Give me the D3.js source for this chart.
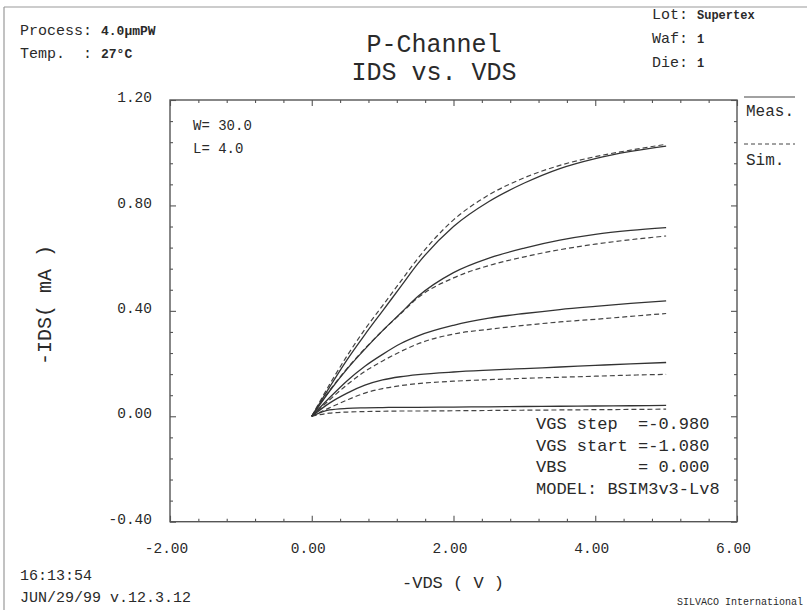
<!DOCTYPE html>
<html>
<head>
<meta charset="utf-8">
<script src="https://cdn.jsdelivr.net/npm/d3@7"></script>
<style>
  html, body { margin: 0; padding: 0; background: #fff; }
  svg { display: block; }
  text { font-family: "Liberation Mono", "DejaVu Sans Mono", monospace; fill: #2a2a2a; white-space: pre; }
</style>
</head>
<body>
<svg id="chart" width="807" height="610"></svg>
<script>
// ---- data ----
const vds = [0, 0.25, 0.5, 0.75, 1.0, 1.25, 1.5, 2.0, 2.5, 3.0, 3.5, 4.0, 4.5, 5.0];
// measured -IDS (mA), VGS = -5.0, -4.0, -3.0, -2.1, -1.1 (top to bottom)
const meas1 = [0, 0.110, 0.215, 0.310, 0.400, 0.490, 0.580, 0.720, 0.815, 0.885, 0.940, 0.978, 1.005, 1.025];
const meas2 = [0, 0.095, 0.180, 0.255, 0.325, 0.390, 0.455, 0.545, 0.600, 0.638, 0.668, 0.690, 0.705, 0.716];
const meas3 = [0, 0.070, 0.135, 0.190, 0.235, 0.275, 0.305, 0.345, 0.372, 0.390, 0.405, 0.417, 0.428, 0.438];
const meas4 = [0, 0.050, 0.088, 0.118, 0.138, 0.150, 0.158, 0.168, 0.175, 0.181, 0.187, 0.193, 0.199, 0.204];
const meas5 = [0, 0.024, 0.030, 0.032, 0.033, 0.034, 0.034, 0.035, 0.036, 0.037, 0.038, 0.039, 0.040, 0.041];
// simulated -IDS (mA)
const sim1 = [0, 0.120, 0.230, 0.330, 0.420, 0.510, 0.600, 0.745, 0.840, 0.905, 0.952, 0.985, 1.010, 1.032];
const sim2 = [0, 0.097, 0.182, 0.257, 0.325, 0.388, 0.450, 0.525, 0.572, 0.605, 0.632, 0.653, 0.670, 0.684];
const sim3 = [0, 0.062, 0.120, 0.170, 0.210, 0.245, 0.275, 0.312, 0.330, 0.345, 0.358, 0.368, 0.379, 0.390];
const sim4 = [0, 0.032, 0.062, 0.088, 0.105, 0.116, 0.124, 0.133, 0.139, 0.144, 0.148, 0.152, 0.156, 0.159];
const sim5 = [0, 0.012, 0.016, 0.018, 0.019, 0.020, 0.020, 0.021, 0.022, 0.023, 0.024, 0.025, 0.026, 0.027];

const xMajor = [-2, 0, 2, 4, 6];
const yMajor = [-0.4, 0, 0.4, 0.8, 1.2];
const xLabels = ["-2.00", "0.00", "2.00", "4.00", "6.00"];
const yLabels = ["-0.40", "0.00", "0.40", "0.80", "1.20"];
const paramLines = ["VGS step  =-0.980", "VGS start =-1.080", "VBS       = 0.000", "MODEL: BSIM3v3-Lv8"];

// ---- drawing ----
const svg = d3.select("#chart");
const L = 170, R = 737, T = 100, B = 521.7;
const x = d3.scaleLinear().domain([-2, 6]).range([L, R]);
const y = d3.scaleLinear().domain([-0.4, 1.2]).range([B, T]);
const ink = "#555";

svg.append("rect").attr("width", 807).attr("height", 610).attr("fill", "#fff");

// page border (top and left)
svg.append("line").attr("x1", 4).attr("y1", 7).attr("x2", 807).attr("y2", 7).attr("stroke", "#999").attr("stroke-width", 1.2);
svg.append("line").attr("x1", 4).attr("y1", 7).attr("x2", 4).attr("y2", 610).attr("stroke", "#999").attr("stroke-width", 1.2);

const xMinor = d3.range(-2, 6.001, 0.4).filter(v => Math.abs(Math.round(v / 2) * 2 - v) > 1e-6);
const yMinor = d3.range(-0.4, 1.2001, 0.08).filter(v => Math.abs(Math.round(v / 0.4) * 0.4 - v) > 1e-6);

function styleAxis(g) {
  g.select(".domain").remove();
  g.selectAll("line").attr("stroke", ink).attr("stroke-width", 1.1);
  g.selectAll("text").style("font-family", '"Liberation Mono", monospace').style("font-size", "14.5px").attr("fill", "#2a2a2a");
}

// bottom
svg.append("g").attr("transform", `translate(0,${B})`)
  .call(d3.axisBottom(x).tickValues(xMajor).tickSize(-6).tickPadding(21).tickFormat((d, i) => xLabels[i]))
  .call(styleAxis).call(g => g.selectAll("text").attr("dx", -4));
svg.append("g").attr("transform", `translate(0,${B})`)
  .call(d3.axisBottom(x).tickValues(xMinor).tickSize(-3).tickFormat("")).call(styleAxis);
// top
svg.append("g").attr("transform", `translate(0,${T})`)
  .call(d3.axisTop(x).tickValues(xMajor).tickSize(-6).tickFormat("")).call(styleAxis);
svg.append("g").attr("transform", `translate(0,${T})`)
  .call(d3.axisTop(x).tickValues(xMinor).tickSize(-3).tickFormat("")).call(styleAxis);
// left
svg.append("g").attr("transform", `translate(${L},0)`)
  .call(d3.axisLeft(y).tickValues(yMajor).tickSize(-6).tickPadding(18).tickFormat((d, i) => yLabels[i]))
  .call(styleAxis).call(g => g.selectAll("text").attr("y", -3));
svg.append("g").attr("transform", `translate(${L},0)`)
  .call(d3.axisLeft(y).tickValues(yMinor).tickSize(-3).tickFormat("")).call(styleAxis);
// right
svg.append("g").attr("transform", `translate(${R},0)`)
  .call(d3.axisRight(y).tickValues(yMajor).tickSize(-6).tickFormat("")).call(styleAxis);
svg.append("g").attr("transform", `translate(${R},0)`)
  .call(d3.axisRight(y).tickValues(yMinor).tickSize(-3).tickFormat("")).call(styleAxis);

// frame
svg.append("rect").attr("x", L).attr("y", T).attr("width", R - L).attr("height", B - T)
  .attr("fill", "none").attr("stroke", ink).attr("stroke-width", 1.4);

// curves
const line = d3.line().x((d, i) => x(vds[i])).y(d => y(d)).curve(d3.curveMonotoneX);
[sim1, sim2, sim3, sim4, sim5].forEach(s => {
  svg.append("path").attr("d", line(s)).attr("fill", "none").attr("stroke", "#444")
    .attr("stroke-width", 1.2).attr("stroke-dasharray", "5,3");
});
[meas1, meas2, meas3, meas4, meas5].forEach(s => {
  svg.append("path").attr("d", line(s)).attr("fill", "none").attr("stroke", "#333").attr("stroke-width", 1.3);
});

// in-plot text
svg.append("text").attr("x", 193).attr("y", 130).style("font-size", "14px").text("W= 30.0");
svg.append("text").attr("x", 193).attr("y", 153).style("font-size", "14px").text("L= 4.0");
paramLines.forEach((t, i) => {
  svg.append("text").attr("x", 536).attr("y", 429 + i * 21.5).style("font-size", "17px").text(t);
});

// legend
svg.append("line").attr("x1", 744).attr("x2", 795).attr("y1", 97).attr("y2", 97).attr("stroke", "#444").attr("stroke-width", 1.2);
svg.append("text").attr("x", 746).attr("y", 116).style("font-size", "16px").text("Meas.");
svg.append("line").attr("x1", 744).attr("x2", 795).attr("y1", 144).attr("y2", 144).attr("stroke", "#444").attr("stroke-width", 1).attr("stroke-dasharray", "4,3");
svg.append("text").attr("x", 746).attr("y", 165).style("font-size", "16px").text("Sim.");

// header
const hdr = svg.append("g");
let t1 = hdr.append("text").attr("x", 20).attr("y", 35).style("font-size", "15px");
t1.append("tspan").text("Process: ");
t1.append("tspan").style("font-weight", "bold").style("font-size", "13px").text("4.0\u00b5mPW");
let t2 = hdr.append("text").attr("x", 20).attr("y", 58).style("font-size", "15px");
t2.append("tspan").text("Temp.  : ");
t2.append("tspan").style("font-weight", "bold").style("font-size", "13px").text("27\u00b0C");

hdr.append("text").attr("x", 434).attr("y", 52).attr("text-anchor", "middle").style("font-size", "25px").text("P-Channel");
hdr.append("text").attr("x", 434).attr("y", 80).attr("text-anchor", "middle").style("font-size", "25px").text("IDS vs. VDS");

[["Lot: ", "Supertex", 19], ["Waf: ", "1", 43], ["Die: ", "1", 67]].forEach(([a, b, yy]) => {
  const t = hdr.append("text").attr("x", 652).attr("y", yy).style("font-size", "15px");
  t.append("tspan").text(a);
  t.append("tspan").style("font-weight", "bold").style("font-size", "12px").text(b);
});

// axis titles
svg.append("text").attr("transform", "translate(51,305) rotate(-90)").attr("text-anchor", "middle")
  .style("font-size", "20px").text("-IDS( mA )");
svg.append("text").attr("x", 453).attr("y", 588).attr("text-anchor", "middle").style("font-size", "17px").text("-VDS ( V )");

// footer
svg.append("text").attr("x", 20).attr("y", 580).style("font-size", "15px").text("16:13:54");
svg.append("text").attr("x", 20).attr("y", 602).style("font-size", "15px").text("JUN/29/99 v.12.3.12");
svg.append("text").attr("x", 803).attr("y", 605).attr("text-anchor", "end").style("font-size", "10px").text("SILVACO International");
</script>
</body>
</html>
